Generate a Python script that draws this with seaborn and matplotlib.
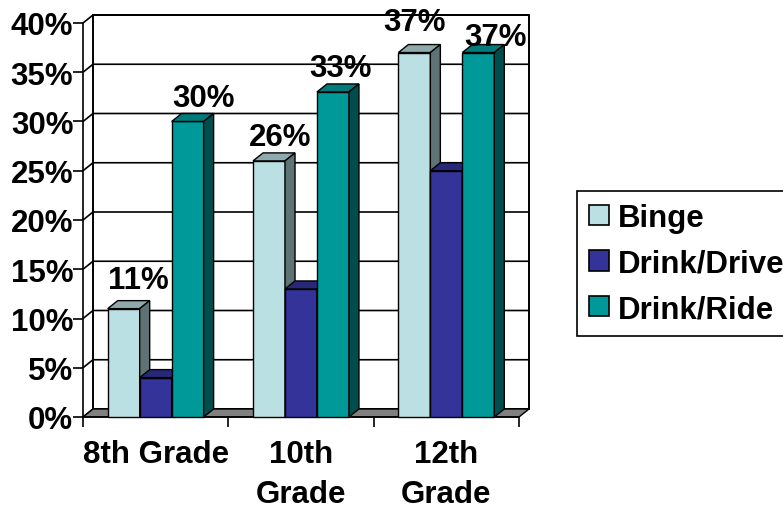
import matplotlib
matplotlib.use("Agg")
import matplotlib.pyplot as plt
import seaborn as sns
import pandas as pd
from matplotlib.patches import Polygon, Rectangle, Patch

# --- data ---------------------------------------------------------------
grades = ["8th Grade", "10th Grade", "12th Grade"]
grade_labels = ["8th Grade", "10th\nGrade", "12th\nGrade"]
series = ["Binge", "Drink/Drive", "Drink/Ride"]
binge = [11, 26, 37]
drink_drive = [4, 13, 25]
drink_ride = [30, 33, 37]
labelled_series = ["Binge", "Drink/Ride"]
y_ticks = [0, 5, 10, 15, 20, 25, 30, 35, 40]

rows = []
for name, vals in zip(series, [binge, drink_drive, drink_ride]):
    for g, v in zip(grades, vals):
        rows.append({"Grade": g, "Series": name, "Value": v})
df = pd.DataFrame(rows)

# --- styling ------------------------------------------------------------
front_colors = {"Binge": "#BBE0E3", "Drink/Drive": "#333399", "Drink/Ride": "#009999"}
top_colors = {"Binge": "#8FAAAD", "Drink/Drive": "#28287A", "Drink/Ride": "#007A7A"}
side_colors = {"Binge": "#5F7374", "Drink/Drive": "#1E1E5C", "Drink/Ride": "#004D4D"}

# pixel nudges for the value labels (x right, y up from the bar's front top)
label_nudge = {
    ("Binge", "8th Grade"): (15, 21),
    ("Drink/Ride", "8th Grade"): (16, 15),
    ("Binge", "10th Grade"): (11, 16),
    ("Drink/Ride", "10th Grade"): (8, 16),
    ("Binge", "12th Grade"): (0, 23),
    ("Drink/Ride", "12th Grade"): (17, 8),
}

sns.set_theme(style="white")
plt.rcParams["font.family"] = ["Liberation Sans", "DejaVu Sans"]
plt.rcParams["font.weight"] = "bold"
plt.rcParams["text.color"] = "black"
plt.rcParams["axes.labelcolor"] = "black"
plt.rcParams["xtick.color"] = "black"
plt.rcParams["ytick.color"] = "black"
FS = 22.5

W, H = 783, 510
fig = plt.figure(figsize=(W / 100, H / 100), dpi=100)
fig.patch.set_facecolor("white")
ax_l, ax_b, ax_w, ax_h = 83, 418, 436, 394
ax = fig.add_axes([ax_l / W, 1 - ax_b / H, ax_w / W, ax_h / H])
ax.set_facecolor("none")

sns.barplot(data=df, x="Grade", y="Value", hue="Series", order=grades,
            hue_order=series, palette=front_colors, saturation=1, width=0.66,
            edgecolor="black", linewidth=1.0, legend=False, ax=ax)

ax.set_xlim(-0.5, 2.5)
ax.set_ylim(0, 40)

# depth of the 3-D effect in data units (10 px right, 8 px up)
dx = 10 * 3.0 / ax_w
dy = 8 * 40.0 / ax_h

# back wall, its gridlines and the slanted lines on the side wall
ax.add_patch(Rectangle((-0.5 + dx, dy), 3, 40, facecolor="white",
                       edgecolor="black", linewidth=1.4, zorder=0.5, clip_on=False))
for t in y_ticks:
    ax.plot([-0.5, -0.5 + dx, 2.5 + dx], [t, t + dy, t + dy], color="black",
            linewidth=1.2, zorder=0.6, clip_on=False, solid_capstyle="butt")

# floor
ax.add_patch(Polygon([(-0.5, 0), (2.5, 0), (2.5 + dx, dy), (-0.5 + dx, dy)],
                     closed=True, facecolor="#808080", edgecolor="black",
                     linewidth=1.0, zorder=0.7, clip_on=False))

# 3-D tops and sides of the bars, layered left to right
bars = []
for name, cont in zip(series, ax.containers):
    for g, bar in zip(grades, cont):
        bars.append((bar.get_x(), name, g, bar))
bars.sort(key=lambda b: b[0])

for i, (_, name, g, bar) in enumerate(bars):
    x0 = bar.get_x()
    x1 = x0 + bar.get_width()
    h = bar.get_height()
    base = 2 + 3 * i
    bar.set_zorder(base)
    bar.set_clip_on(False)
    ax.add_patch(Polygon([(x0, h), (x1, h), (x1 + dx, h + dy), (x0 + dx, h + dy)],
                         closed=True, facecolor=top_colors[name], edgecolor="black",
                         linewidth=1.0, zorder=base + 1, clip_on=False))
    ax.add_patch(Polygon([(x1, 0), (x1, h), (x1 + dx, h + dy), (x1 + dx, dy)],
                         closed=True, facecolor=side_colors[name], edgecolor="black",
                         linewidth=1.0, zorder=base + 2, clip_on=False))
    if name in labelled_series:
        ox, oy = label_nudge[(name, g)]
        ax.annotate(f"{h:.0f}%", xy=((x0 + x1) / 2, h), xytext=(ox, oy),
                    textcoords="offset pixels", ha="center", va="baseline",
                    fontsize=FS, fontweight="bold", color="black", zorder=50,
                    annotation_clip=False)

# axes, ticks and labels
for side in ["top", "right"]:
    ax.spines[side].set_visible(False)
for side in ["left", "bottom"]:
    ax.spines[side].set_color("black")
    ax.spines[side].set_linewidth(1.2)
    ax.spines[side].set_zorder(1)

ax.set_yticks(y_ticks)
ax.set_yticklabels([f"{t}%" for t in y_ticks])
ax.tick_params(axis="y", direction="out", length=7, width=1.2, color="black",
               pad=0, labelsize=FS, labelcolor="black", left=True)

ax.set_xticks([0, 1, 2])
ax.set_xticklabels(grade_labels)
ax.set_xticks([-0.5, 0.5, 1.5, 2.5], minor=True)
ax.tick_params(axis="x", which="major", length=0, pad=16, labelsize=FS,
               labelcolor="black")
ax.tick_params(axis="x", which="minor", direction="out", length=7, width=1.2,
               color="black", bottom=True)
for lbl in ax.get_xticklabels():
    lbl.set_linespacing(1.42)
    lbl.set_fontweight("bold")
for lbl in ax.get_yticklabels():
    lbl.set_fontweight("bold")
ax.set_xlabel("")
ax.set_ylabel("")
ax.grid(False)

# legend
handles = [Patch(facecolor=front_colors[s], edgecolor="black", linewidth=1.2)
           for s in series]
leg = fig.legend(handles, series, loc="upper left",
                 bbox_to_anchor=(577 / W, 1 - 192 / H), bbox_transform=fig.transFigure,
                 frameon=True, fancybox=False, framealpha=1, edgecolor="black",
                 prop={"size": FS, "weight": "bold"}, handlelength=0.64,
                 handleheight=0.64, handletextpad=0.28, borderpad=0.38,
                 labelspacing=0.5, borderaxespad=0)
leg.get_frame().set_linewidth(1.2)
for txt in leg.get_texts():
    txt.set_color("black")

fig.savefig("out.png", dpi=100)
